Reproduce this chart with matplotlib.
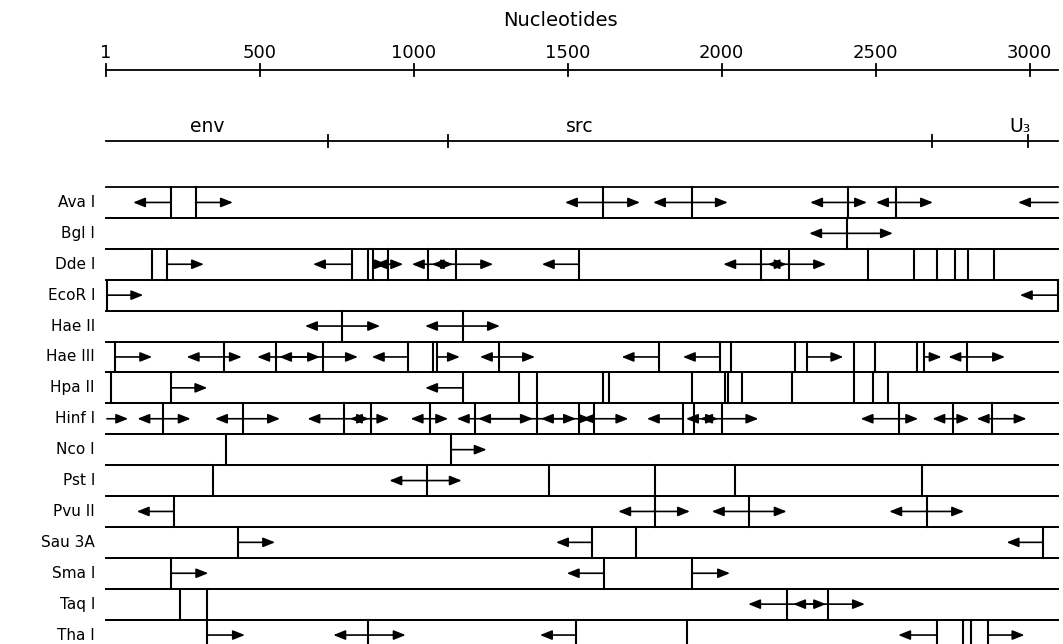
import matplotlib.pyplot as plt

# restriction map of the 3' region, positions in nucleotides
SEQ_LEN = 3092
scale_ticks = [1, 500, 1000, 1500, 2000, 2500, 3000]

gene_bounds = [722, 1111, 2683, 2995]
gene_labels = ['env', 'src', 'U\u2083']
gene_label_pos = [329, 1540, 2968]

enzymes = ['Ava I', 'Bgl I', 'Dde I', 'EcoR I', 'Hae II', 'Hae III', 'Hpa II',
           'Hinf I', 'Nco I', 'Pst I', 'Pvu II', 'Sau 3A', 'Sma I', 'Taq I', 'Tha I']

# cut sites for each enzyme
cuts = {
    'Ava I': [211, 292, 1616, 1903, 2411, 2565],
    'Bgl I': [2408],
    'Dde I': [150, 200, 799, 853, 869, 918, 1047, 1137, 1537, 2127, 2220,
              2476, 2624, 2698, 2757, 2801, 2884],
    'EcoR I': [3, 3092],
    'Hae II': [767, 1161],
    'Hae III': [30, 385, 553, 707, 981, 1064, 1075, 1278, 1797, 1995, 2029,
                2238, 2278, 2430, 2498, 2633, 2657, 2796],
    'Hpa II': [17, 211, 1161, 1343, 1399, 1614, 1635, 1905, 2011, 2020, 2065,
               2229, 2430, 2492, 2541],
    'Hinf I': [185, 445, 774, 860, 1053, 1199, 1399, 1537, 1585, 1875, 1910,
               2000, 2577, 2750, 2877],
    'Nco I': [391, 1120],
    'Pst I': [347, 1042, 1440, 1783, 2043, 2651],
    'Pvu II': [222, 1783, 2089, 2666],
    'Sau 3A': [431, 1579, 1721, 3044],
    'Sma I': [211, 1618, 1905],
    'Taq I': [241, 330, 2213, 2346],
    'Tha I': [330, 853, 1527, 1886, 2698, 2785, 2810, 2866],
}

# sequenced stretches: (start, end), arrow points to end
reads = {
    'Ava I': [(211, 89), (292, 413), (1616, 1491), (1616, 1735), (1903, 1777),
              (1903, 2020), (2411, 2287), (2411, 2472), (2565, 2501), (2565, 2686),
              (3092, 2962)],
    'Bgl I': [(2408, 2284), (2408, 2556)],
    'Dde I': [(200, 319), (799, 673), (918, 873), (869, 913), (918, 966),
              (1047, 994), (1137, 1059), (1047, 1128), (1137, 1258), (1537, 1416),
              (2127, 2005), (2220, 2149), (2127, 2211), (2220, 2339)],
    'EcoR I': [(3, 122), (3092, 2968)],
    'Hae II': [(767, 647), (767, 891), (1161, 1037), (1161, 1280)],
    'Hae III': [(30, 151), (385, 263), (385, 442), (553, 492), (707, 563),
                (553, 696), (707, 819), (981, 864), (1075, 1150), (1278, 1215),
                (1278, 1394), (1797, 1675), (1995, 1874), (2278, 2395),
                (2657, 2714), (2796, 2736), (2796, 2920)],
    'Hpa II': [(211, 330), (1161, 1037)],
    'Hinf I': [(4, 73), (185, 103), (185, 276), (445, 355), (445, 566),
               (774, 655), (860, 793), (774, 855), (860, 921), (1053, 990),
               (1053, 1112), (1199, 1140), (1399, 1209), (1199, 1387),
               (1537, 1413), (1399, 1527), (1585, 1546), (1537, 1576),
               (1585, 1697), (1875, 1757), (1910, 1884), (2000, 1930),
               (1910, 1988), (2000, 2119), (2577, 2451), (2577, 2638),
               (2750, 2684), (2750, 2804), (2877, 2828), (2877, 2990)],
    'Nco I': [(1120, 1237)],
    'Pst I': [(1042, 921), (1042, 1156)],
    'Pvu II': [(222, 101), (1783, 1664), (1783, 1897), (2089, 1968),
               (2089, 2211), (2666, 2544), (2666, 2787)],
    'Sau 3A': [(431, 550), (1579, 1462), (3044, 2925)],
    'Sma I': [(211, 333), (1618, 1497), (1905, 2027)],
    'Taq I': [(2213, 2086), (2346, 2232), (2213, 2339), (2346, 2465)],
    'Tha I': [(330, 452), (853, 739), (853, 974), (1527, 1410), (2698, 2573),
              (2866, 2983)],
}

W, H = 1063, 644
px_per_nt = 0.308
x0 = 106  # pixel of nucleotide 1

fig = plt.figure(figsize=(W / 100, H / 100), dpi=100)
ax = fig.add_axes([0, 0, 1, 1])
ax.set_xlim(1 - x0 / px_per_nt, 1 + (W - x0) / px_per_nt)
ax.set_ylim(H, 0)
ax.axis('off')

font = dict(family='DejaVu Sans', color='black')

# nucleotide scale
ax.text(1475, 20, 'Nucleotides', fontsize=14, ha='center', va='center', **font)
ax.plot([1, SEQ_LEN], [70, 70], color='black', lw=1.3)
for t in scale_ticks:
    ax.plot([t, t], [64, 76], color='black', lw=1.3)
    ax.text(t, 53, str(t), fontsize=13, ha='center', va='center', **font)

# gene map
ax.plot([1, SEQ_LEN], [141, 141], color='black', lw=1.3)
for b in gene_bounds:
    ax.plot([b, b], [135, 147], color='black', lw=1.3)
for lab, pos in zip(gene_labels, gene_label_pos):
    ax.text(pos, 126, lab, fontsize=13.5, ha='center', va='center', **font)

# enzyme rows
row_top = 187
row_h = 30.9
for i, name in enumerate(enzymes):
    top = row_top + i * row_h
    bot = top + row_h
    mid = top + row_h / 2
    ax.plot([1, SEQ_LEN], [top, top], color='black', lw=1.3)
    ax.plot([1, SEQ_LEN], [bot, bot], color='black', lw=1.3)
    ax.text(1 - 11 / px_per_nt, mid, name, fontsize=11, ha='right', va='center', **font)
    for c in cuts[name]:
        ax.plot([c, c], [top, bot], color='black', lw=1.5)
    for s, e in reads[name]:
        ax.annotate('', xy=(e, mid), xytext=(s, mid),
                    arrowprops=dict(arrowstyle='-|>,head_length=0.55,head_width=0.22',
                                    color='black', lw=1.2, mutation_scale=13,
                                    shrinkA=0, shrinkB=0))

fig.savefig('out.png', dpi=100)
